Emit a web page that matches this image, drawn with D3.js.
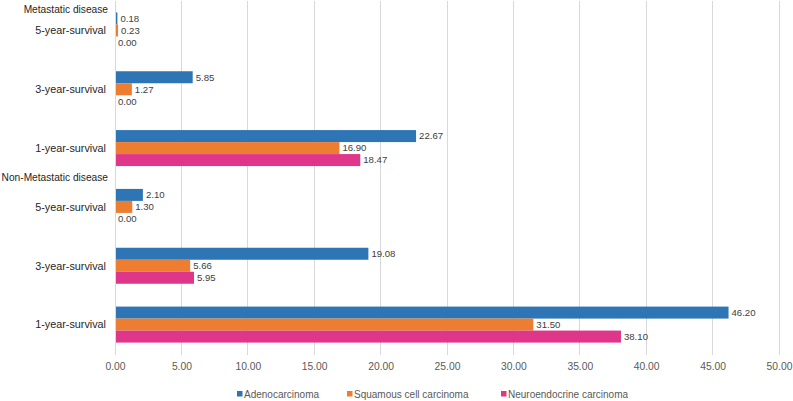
<!DOCTYPE html>
<html><head><meta charset="utf-8">
<script src="https://cdn.jsdelivr.net/npm/d3@7"></script>
<style>body{margin:0;background:#fff;} svg{display:block;font-family:"Liberation Sans",Arial,sans-serif;}</style>
</head><body><svg id="c" width="793" height="401"></svg>
<script>
const groups = ["Metastatic disease", "Non-Metastatic disease"];
const categories = ["5-year-survival", "3-year-survival", "1-year-survival"];
const seriesNames = ["Adenocarcinoma", "Squamous cell carcinoma", "Neuroendocrine carcinoma"];
const colors = ["#2E75B6", "#ED7D31", "#E0368A"];
// values per group, per category (top to bottom)
const adeno  = [[0.18, 5.85, 22.67], [2.10, 19.08, 46.20]];
const squam  = [[0.23, 1.27, 16.90], [1.30, 5.66, 31.50]];
const neuro  = [[0.00, 0.00, 18.47], [0.00, 5.95, 38.10]];
const xTicks = [0,5,10,15,20,25,30,35,40,45,50];

const svg = d3.select("#c");
const rows = [];
groups.forEach((g, gi) => categories.forEach((c, ci) => rows.push({id: gi + "|" + ci, group: gi, cat: c, vals: [adeno[gi][ci], squam[gi][ci], neuro[gi][ci]]})));

const x = d3.scaleLinear().domain([0, 50]).range([115, 779]);
const y = d3.scaleBand().domain(rows.map(r => r.id)).range([1, 354]).paddingInner(0.388).paddingOuter(0.194);
const barH = y.bandwidth() / 3;

// gridlines
svg.append("g").selectAll("line").data(xTicks.slice(1)).join("line")
  .attr("x1", d => x(d)).attr("x2", d => x(d)).attr("y1", 1).attr("y2", 355)
  .attr("stroke", "#d9d9d9").attr("stroke-width", 1).attr("shape-rendering", "crispEdges");

// x axis labels
const xAxis = d3.axisBottom(x).tickValues(xTicks).tickFormat(d3.format(".2f")).tickSize(0).tickPadding(0);
const gx = svg.append("g").attr("transform", "translate(0,366.5)").call(xAxis);
gx.select(".domain").remove();
gx.selectAll("text").attr("font-size", 10.3).attr("fill", "#595959").attr("dy", "0.35em").attr("y", 0)
  .style("font-family", "Liberation Sans, Arial, sans-serif");

// bars
const rowG = svg.append("g").selectAll("g").data(rows).join("g")
  .attr("transform", d => `translate(0,${y(d.id)})`);
rowG.selectAll("rect").data(d => d.vals).join("rect")
  .attr("x", x(0)).attr("y", (d, i) => i * barH)
  .attr("width", d => x(d) - x(0)).attr("height", barH)
  .attr("fill", (d, i) => colors[i]);
rowG.selectAll("text").data(d => d.vals).join("text")
  .attr("x", d => x(d) + 3).attr("y", (d, i) => i * barH + barH / 2)
  .attr("dy", "0.35em").attr("font-size", 9.6).attr("fill", "#404040")
  .text(d => d.toFixed(2));

// y axis line
svg.append("line").attr("x1", x(0)).attr("x2", x(0)).attr("y1", 1).attr("y2", 355)
  .attr("stroke", "#d9d9d9").attr("shape-rendering", "crispEdges");

// category labels
svg.append("g").selectAll("text").data(rows).join("text")
  .attr("x", 106).attr("y", d => y(d.id) + y.bandwidth() / 2).attr("dy", "0.35em")
  .attr("text-anchor", "end").attr("font-size", 10.8).attr("fill", "#262626").text(d => d.cat);

// group labels
svg.append("g").selectAll("text").data(groups).join("text")
  .attr("x", 108).attr("y", (g, gi) => Math.max(9, y(gi + "|0") - y.step() * y.paddingInner() / 2))
  .attr("dy", "0.35em").attr("text-anchor", "end").attr("font-size", 10.2).attr("fill", "#262626").text(d => d);

// legend
const legX = [237, 347, 501];
const leg = svg.append("g").selectAll("g").data(seriesNames).join("g")
  .attr("transform", (d, i) => `translate(${legX[i]},394)`);
leg.append("rect").attr("x", 0).attr("y", -3).attr("width", 5.5).attr("height", 5.5).attr("fill", (d, i) => colors[i]);
leg.append("text").attr("x", 7).attr("y", 0).attr("dy", "0.35em").attr("font-size", 10).attr("fill", "#595959").text(d => d);
</script></body></html>
